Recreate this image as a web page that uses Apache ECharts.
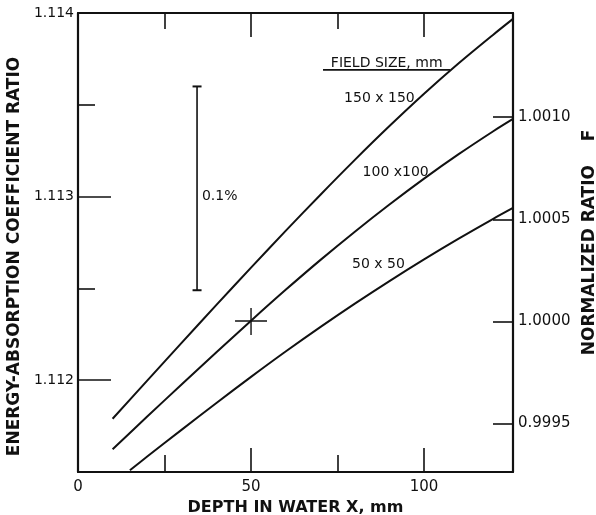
<!DOCTYPE html>
<html>
<head>
<meta charset="utf-8">
<script src="https://cdn.jsdelivr.net/npm/echarts@6/dist/echarts.min.js"></script>
<style>
html,body{margin:0;padding:0;background:#fff;}
#chart{width:596px;height:515px;}
</style>
</head>
<body>
<div id="chart"></div>
<script>
// ---- data ----
const depth = [10, 20, 30, 40, 50, 60, 70, 80, 90, 100, 110, 120, 125.7];
const ratio150 = [1.111790, 1.111998, 1.112205, 1.112410, 1.112613, 1.112813, 1.113009, 1.113200, 1.113384, 1.113560, 1.113726, 1.113882, 1.113968];
const ratio100 = [1.111624, 1.111802, 1.111978, 1.112152, 1.112324, 1.112492, 1.112654, 1.112809, 1.112957, 1.113098, 1.113231, 1.113356, 1.113423];
const depth50 = [15, 20, 30, 40, 50, 60, 70, 80, 90, 100, 110, 120, 125.7];
const ratio50 = [1.111510, 1.111584, 1.111731, 1.111876, 1.112018, 1.112156, 1.112289, 1.112417, 1.112540, 1.112658, 1.112771, 1.112879, 1.112938];

const xRange = [0, 125.7];
const leftRange = [1.1115, 1.114];
const normRatio = 1.11232;          // ratio where F = 1.0000 (100x100 at 50 mm)
const normPoint = [50, 1.11232];

const xMajorTicks = [50, 100];
const xMinorTicks = [25, 75];
const xLabels = [0, 50, 100];
const leftMajorTicks = [1.112, 1.113];
const leftMinorTicks = [1.1125, 1.1135];
const leftLabels = [1.112, 1.113, 1.114];
const rightTicks = [0.9995, 1.0000, 1.0005, 1.0010];

const scaleBar = [[34.4, 1.11360], [34.4, 1.11249]];
const fieldUnderline = [[70.8, 1.11369], [107.5, 1.11369]];
const annotations = [
  {text: 'FIELD SIZE, mm', pos: [89.2, 1.113728], align: 'center'},
  {text: '150 x 150', pos: [87.1, 1.113533], align: 'center'},
  {text: '100 x100', pos: [91.8, 1.113130], align: 'center'},
  {text: '50 x 50', pos: [86.8, 1.112630], align: 'center'},
  {text: '0.1%', pos: [35.8, 1.113], align: 'left'}
];

const zip = (xs, ys) => xs.map((x, i) => [x, ys[i]]);
const FONT = 'DejaVu Sans';
const INK = '#111';

const chart = echarts.init(document.getElementById('chart'), null, {renderer: 'canvas'});

const baseX = {
  type: 'value', min: xRange[0], max: xRange[1],
  splitLine: {show: false}
};
const baseLeft = {
  type: 'value', min: leftRange[0], max: leftRange[1],
  splitLine: {show: false}
};
const line = (show) => ({show: show, onZero: false, lineStyle: {color: INK, width: 2.2}});
const tick = (len, vals) => ({show: true, inside: true, length: len, customValues: vals, lineStyle: {color: INK, width: 1.6}});

const option = {
  backgroundColor: '#fff',
  animation: false,
  grid: {left: 78, right: 83, top: 13, bottom: 43, containLabel: false, outerBoundsMode: 'none'},
  xAxis: [
    Object.assign({}, baseX, {
      position: 'bottom',
      axisLine: line(true),
      axisTick: tick(24, xMajorTicks),
      axisLabel: {show: true, customValues: xLabels, margin: 8, color: INK, fontFamily: FONT, fontSize: 15},
      name: 'DEPTH IN WATER X, mm', nameLocation: 'middle', nameGap: 26,
      nameTextStyle: {color: INK, fontFamily: FONT, fontSize: 16, fontWeight: 'bold'}
    }),
    Object.assign({}, baseX, {
      position: 'bottom', axisLine: line(false), axisTick: tick(17, xMinorTicks), axisLabel: {show: false}
    }),
    Object.assign({}, baseX, {
      position: 'top', axisLine: line(true), axisTick: tick(24, xMajorTicks), axisLabel: {show: false}
    }),
    Object.assign({}, baseX, {
      position: 'top', axisLine: line(false), axisTick: tick(16, xMinorTicks), axisLabel: {show: false}
    })
  ],
  yAxis: [
    Object.assign({}, baseLeft, {
      position: 'left',
      axisLine: line(true),
      axisTick: tick(33, leftMajorTicks),
      axisLabel: {show: true, customValues: leftLabels, margin: 4, color: INK, fontFamily: FONT, fontSize: 14,
        formatter: v => v.toFixed(3)},
      name: 'ENERGY-ABSORPTION COEFFICIENT RATIO', nameLocation: 'middle', nameGap: 54, nameRotate: 90,
      nameTextStyle: {color: INK, fontFamily: FONT, fontSize: 17, fontWeight: 'bold', padding: [0, 28, 0, 0]}
    }),
    Object.assign({}, baseLeft, {
      position: 'left', axisLine: line(false), axisTick: tick(17, leftMinorTicks), axisLabel: {show: false}
    }),
    {
      type: 'value', position: 'right',
      min: leftRange[0] / normRatio, max: leftRange[1] / normRatio,
      splitLine: {show: false},
      axisLine: line(true),
      axisTick: tick(20, rightTicks),
      axisLabel: {show: true, customValues: rightTicks, margin: 5, color: INK, fontFamily: FONT, fontSize: 15,
        formatter: v => v.toFixed(4)},
      name: 'NORMALIZED RATIO    F', nameLocation: 'middle', nameGap: 62, nameRotate: 90,
      nameTextStyle: {color: INK, fontFamily: FONT, fontSize: 17, fontWeight: 'bold'}
    }
  ],
  series: [
    {type: 'line', name: '150 x 150', data: zip(depth, ratio150), smooth: 0.3, showSymbol: false,
      lineStyle: {color: INK, width: 2}},
    {type: 'line', name: '100 x 100', data: zip(depth, ratio100), smooth: 0.3, showSymbol: false,
      lineStyle: {color: INK, width: 2}},
    {type: 'line', name: '50 x 50', data: zip(depth50, ratio50), smooth: 0.3, showSymbol: false,
      lineStyle: {color: INK, width: 2}},
    {type: 'line', name: 'scale', data: scaleBar, showSymbol: true, symbol: 'rect', symbolSize: [9, 2],
      itemStyle: {color: INK}, lineStyle: {color: INK, width: 1.6}},
    {type: 'line', name: 'underline', data: fieldUnderline, showSymbol: false,
      lineStyle: {color: INK, width: 1.6}},
    {type: 'scatter', name: 'norm', data: [normPoint],
      symbol: 'path://M0,12.3H32V13.7H0Z M15.3,0H16.7V27H15.3Z', symbolSize: [32, 27],
      itemStyle: {color: INK, opacity: 1}},
    {type: 'scatter', name: 'labels', symbolSize: 0, itemStyle: {opacity: 1},
      data: annotations.map(a => ({value: a.pos, label: {align: a.align, formatter: a.text}})),
      label: {show: true, position: 'inside', color: INK, fontFamily: FONT, fontSize: 14, verticalAlign: 'middle'}}
  ]
};
chart.setOption(option);
</script>
</body>
</html>
